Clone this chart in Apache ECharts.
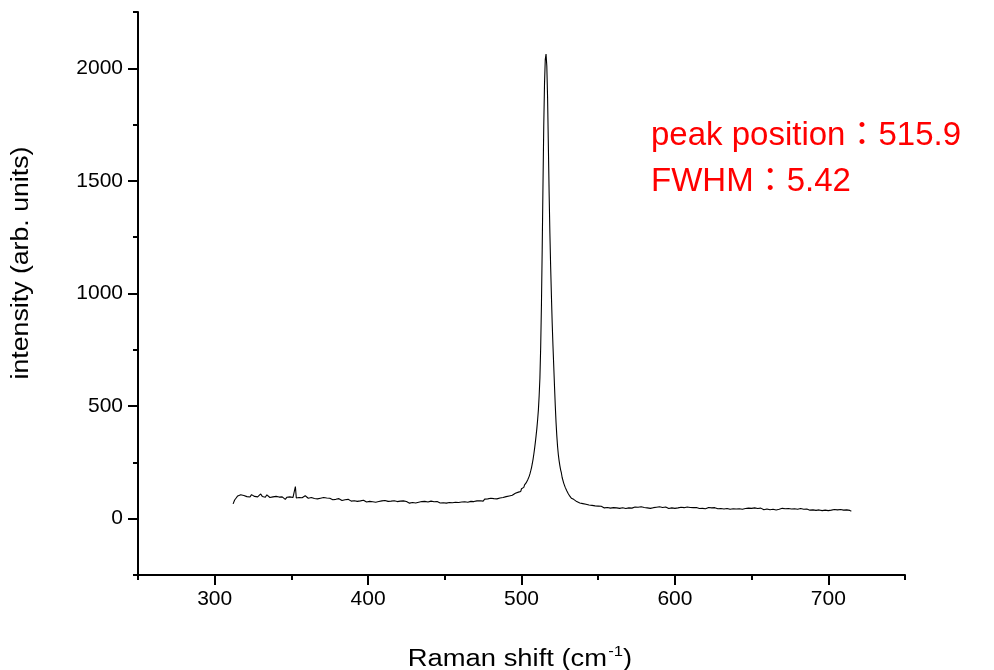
<!DOCTYPE html>
<html>
<head>
<meta charset="utf-8">
<script src="https://cdn.jsdelivr.net/npm/echarts@6/dist/echarts.min.js"></script>
<style>
html,body{margin:0;padding:0;background:#fff;}
#chart{width:994px;height:670px;}
</style>
</head>
<body>
<div id="chart"></div>
<script>
// Raman shift (cm-1) vs intensity
var leftBaseline = [
[312,66],[313,83],[314,92],[315,101],[316,97],[317,106],[318,99],[319,103],[320,108],[321,98],[322,104],[323,96],
[324,107],[325,101],[326,99],[327,105],[328,97],[329,103],[330,110],[331,99],[332,102],[333,95],[334,106],[335,100],
[336,94],[337,101],[338,97],[339,90],[340,99],[341,93],[342,96],[343,88],[344,97],[345,92],[346,86],[347,95],
[348,90],[349,97],[350,89],[351,94],[352,91],[352.6,143],[353.2,92],[354,98],[355,94],[356,100],[357,93],[358,97],
[359,102],[360,95],[361,91],[362,99],[363,94],[364,97],[365,90],[366,95],[367,88],[368,96],[369,91],[370,87],
[371,94],[372,89],[373,92],[374,85],[375,91],[376,88],[377,84],[378,92],[379,86],[380,83],[381,89],[382,85],
[383,81],[384,88],[385,84],[386,79],[387,86],[388,82],[389,78],[390,85],[391,80],[392,83],[393,77],[394,84],
[395,79],[396,75],[397,82],[398,78],[399,74],[400,81],[401,77],[402,83],[403,75],[404,79],[405,73],[406,80],
[407,76],[408,72],[409,79],[410,75],[411,81],[412,73],[413,77],[414,71],[415,78],[416,74],[417,80],[418,72],
[419,76],[420,70],[421,78],[422,74],[423,79],[424,71],[425,76],[426,73],[427,69],[428,77],[429,72],[430,78],
[431,70],[432,75],[433,73],[434,68],[435,76],[436,71],[437,77],[438,69],[439,74],[440,72],[441,78],[442,70],
[443,75],[444,68],[445,76],[446,73],[447,70],[448,77],[449,71],[450,75],[451,69],[452,76],[453,72],[454,78],
[455,71],[456,75],[457,73],[458,79],[459,72],[460,77],[461,74],[462,80],[463,75],[464,78],[465,73],[466,81],
[467,77],[468,82],[469,76],[470,83],[471,79],[472,85],[473,80],[474,84],[475,78],[476,87],[477,83],[478,88],
[479,84],[480,91],[481,86],[482,89],[483,93],[484,88],[485,95],[486,92],[487,97],[488,94],[489,100],[490,98],
[491,103],[492,101],[493,107],[494,104],[495,110],[496,113],[497,110],[498,118]
];
var peakRegion = [
[499,126],[499.5,121],[500,133],[500.5,130],[501,141],[501.5,139],[502,150],[502.5,148],[503,159],[503.5,160],
[504,172],[504.5,176],[505,188],[505.5,199],[506,212],[506.5,226],[507,243],[507.5,262],[508,285],[508.5,310],
[509,338],[509.5,368],[510,400],[510.5,438],[511,482],[511.5,545],[512,625],[512.5,760],[513,950],[513.5,1200],
[514,1480],[514.5,1740],[515,1930],[515.5,2040],[516,2063],[516.5,2010],[517,1870],[517.5,1660],[518,1450],
[518.5,1270],[519,1120],[519.5,990],[520,870],[520.5,770],[521,680],[521.5,590],[522,505],[522.5,430],[523,370],
[523.5,322],[524,285],[524.5,258],[525,236],[525.5,217],[526,203],[526.5,183],[527,176],[527.5,158],[528,154],
[528.5,139],[529,136],[529.5,124],[530,122],[530.5,111],[531,110],[531.5,100],[532,100],[532.5,91],[533,92],
[533.5,84],[534,86],[535,78]
];
var rightBaseline = [
[536,76],[537,71],[538,70],[539,66],[540,67],[541,62],[542,64],[543,58],[544,61],[545,56],[546,59],[547,54],
[548,57],[549,52],[550,56],[551,50],[552,55],[553,52],[554,48],[555,54],[556,50],[557,53],[558,47],[559,52],
[560,49],[561,55],[562,48],[563,51],[564,46],[565,53],[566,49],[567,52],[568,45],[569,51],[570,48],[571,54],
[572,47],[573,50],[574,52],[575,46],[576,51],[577,48],[578,53],[579,47],[580,50],[581,55],[582,48],[583,51],
[584,46],[585,52],[586,49],[587,45],[588,51],[589,48],[590,53],[591,46],[592,50],[593,47],[594,52],[595,49],
[596,45],[597,51],[598,48],[599,53],[600,46],[601,50],[602,48],[603,44],[604,51],[605,47],[606,49],[607,45],
[608,52],[609,47],[610,50],[611,46],[612,49],[613,44],[614,50],[615,47],[616,45],[617,51],[618,46],[619,49],
[620,44],[621,48],[622,50],[623,45],[624,48],[625,43],[626,49],[627,46],[628,44],[629,50],[630,45],[631,47],
[632,43],[633,49],[634,45],[635,48],[636,42],[637,47],[638,44],[639,49],[640,43],[641,46],[642,44],[643,48],
[644,42],[645,47],[646,45],[647,41],[648,47],[649,43],[650,46],[651,42],[652,48],[653,43],[654,45],[655,41],
[656,47],[657,44],[658,40],[659,46],[660,43],[661,45],[662,40],[663,46],[664,42],[665,44],[666,39],[667,45],
[668,42],[669,40],[670,46],[671,41],[672,44],[673,39],[674,45],[675,41],[676,43],[677,38],[678,44],[679,40],
[680,42],[681,38],[682,45],[683,40],[684,42],[685,37],[686,43],[687,40],[688,38],[689,44],[690,39],[691,41],
[692,37],[693,43],[694,39],[695,41],[696,36],[697,42],[698,38],[699,40],[700,36],[701,41],[702,38],[703,35],
[704,41],[705,37],[706,39],[707,35],[708,41],[709,36],[710,38],[711,34],[712,39],[713,35],[714,37],[715,33]
];
var xTickLabels = [300, 400, 500, 600, 700];
var yTickLabels = [0, 500, 1000, 1500, 2000];
var xRange = [250, 750];
var yRange = [-250, 2250];
var annotationLines = ['peak position\uFF1A515.9', 'FWHM\uFF1A5.42'];
var xTitle = ['Raman shift (cm', '-1', ')'];
var yTitle = 'intensity (arb. units)';

var spectrum = leftBaseline.concat(peakRegion, rightBaseline);
var FONT = '"Liberation Sans", Arial, "Noto Sans CJK TC", sans-serif';

var chart = echarts.init(document.getElementById('chart'), null, {renderer: 'canvas'});
var lineStyleAxis = {color: '#000', width: 2};
function plain(v) { return String(v); }
chart.setOption({
  animation: false,
  backgroundColor: '#fff',
  grid: {left: 138, right: 89, top: 12, bottom: 95, containLabel: false, outerBoundsMode: 'none'},
  xAxis: [{
    type: 'value', min: xRange[0], max: xRange[1], position: 'bottom',
    axisLine: {show: true, onZero: false, lineStyle: lineStyleAxis},
    axisTick: {show: true, inside: false, length: 10, lineStyle: lineStyleAxis, customValues: xTickLabels},
    axisLabel: {show: true, customValues: xTickLabels, formatter: plain, margin: 14, color: '#000', fontSize: 21, fontFamily: FONT},
    splitLine: {show: false}
  }, {
    type: 'value', min: xRange[0], max: xRange[1], interval: 100, position: 'bottom',
    axisLine: {show: false, onZero: false},
    axisTick: {show: true, inside: false, length: 5, lineStyle: lineStyleAxis},
    axisLabel: {show: false},
    splitLine: {show: false}
  }],
  yAxis: [{
    type: 'value', min: yRange[0], max: yRange[1], position: 'left',
    axisLine: {show: true, onZero: false, lineStyle: lineStyleAxis},
    axisTick: {show: true, inside: false, length: 10, lineStyle: lineStyleAxis, customValues: yTickLabels},
    axisLabel: {show: true, customValues: yTickLabels, formatter: plain, margin: 15, color: '#000', fontSize: 21, fontFamily: FONT},
    splitLine: {show: false}
  }, {
    type: 'value', min: yRange[0], max: yRange[1], interval: 500, position: 'left',
    axisLine: {show: false, onZero: false},
    axisTick: {show: true, inside: false, length: 5, lineStyle: lineStyleAxis},
    axisLabel: {show: false},
    splitLine: {show: false}
  }],
  series: [{
    type: 'line', xAxisIndex: 0, yAxisIndex: 0,
    data: spectrum, showSymbol: false, symbol: 'none', smooth: false,
    lineStyle: {color: '#000', width: 1.1}
  }],
  graphic: [{
    type: 'text', x: 22, y: 263, rotation: Math.PI / 2, scaleX: 1.16,
    style: {text: yTitle, fill: '#000', font: '23px ' + FONT, align: 'center', verticalAlign: 'middle'}
  }, {
    type: 'text', x: 520, y: 660, scaleX: 1.19,
    style: {
      text: '{a|' + xTitle[0] + '}{s|' + xTitle[1] + '}{a|' + xTitle[2] + '}',
      align: 'center', verticalAlign: 'middle',
      rich: {
        a: {fontSize: 23, fill: '#000', fontFamily: FONT, lineHeight: 30},
        s: {fontSize: 14, fill: '#000', fontFamily: FONT, lineHeight: 10, verticalAlign: 'top', padding: [0, 0, 0, 1]}
      }
    }
  }, {
    type: 'text', x: 651, y: 136,
    style: {text: annotationLines[0], fill: '#ff0000', font: '33px ' + FONT, verticalAlign: 'middle'}
  }, {
    type: 'text', x: 651, y: 182,
    style: {text: annotationLines[1], fill: '#ff0000', font: '33px ' + FONT, verticalAlign: 'middle'}
  }]
});
</script>
</body>
</html>
